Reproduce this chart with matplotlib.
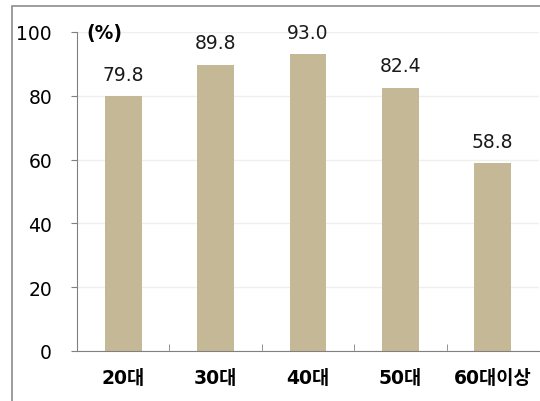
import matplotlib.pyplot as plt
from matplotlib.patches import Rectangle

plt.rcParams['font.family'] = ['DejaVu Sans', 'Noto Sans CJK KR']

categories = ["20대", "30대", "40대", "50대", "60대이상"]
values = [79.8, 89.8, 93.0, 82.4, 58.8]
yticks = [0, 20, 40, 60, 80, 100]

bar_color = "#c4b896"

fig = plt.figure(figsize=(5.4, 4.02), dpi=100)
ax = fig.add_axes([77 / 540, 1 - 352 / 402, 462 / 540, 319 / 402])

# outer frame (right/bottom edges run off the image)
fig.patches.append(Rectangle((12 / 540, -0.05), 1.1, 1 - 7 / 402 + 0.05,
                             transform=fig.transFigure, fill=False,
                             edgecolor="#8c8c8c", linewidth=1.2))

x = range(len(categories))
ax.bar(x, values, width=0.4, color=bar_color, zorder=2)
for xi, v in zip(x, values):
    ax.text(xi, v + 4, f"{v:.1f}", ha="center", va="bottom", fontsize=13.5,
            color="#1a1a1a")

ax.set_xlim(-0.5, len(categories) - 0.5)
ax.set_ylim(0, 100)
ax.set_yticks(yticks)
ax.set_xticks(x)
ax.set_xticklabels(categories, fontsize=13.5, fontweight="bold")
ax.set_xticks([i + 0.5 for i in range(len(categories) - 1)], minor=True)
ax.tick_params(axis="x", which="major", length=0, pad=12)
ax.tick_params(axis="x", which="minor", length=5, direction="in", color="#808080")
ax.tick_params(axis="y", length=4, color="#808080", pad=14, labelsize=13.5)
ax.yaxis.grid(True, color="#efefef", linewidth=1, zorder=0)

for s in ["top", "right"]:
    ax.spines[s].set_visible(False)
for s in ["left", "bottom"]:
    ax.spines[s].set_color("#808080")

ax.text(0.02, 100, "(%)", transform=ax.get_yaxis_transform(), ha="left",
        va="center", fontsize=13.5, fontweight="bold")

fig.savefig("out.png", dpi=100)
